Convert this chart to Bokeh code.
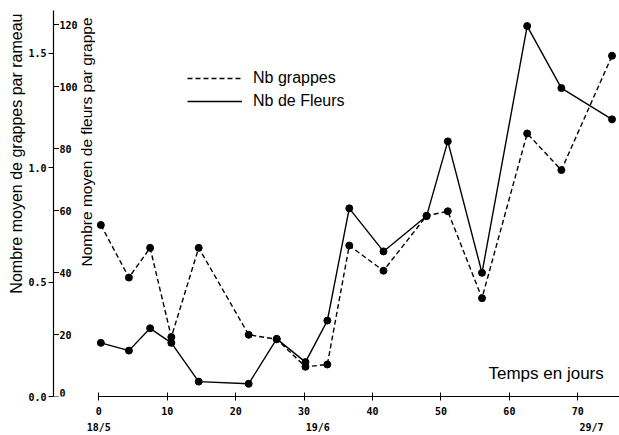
import math
from bokeh.plotting import figure
from bokeh.models import (Range1d, LinearAxis, FixedTicker, Label, LabelSet, Legend,
                          LegendItem, ColumnDataSource, PrintfTickFormatter, Title)
from bokeh.core.properties import value
from bokeh.embed import file_html
from bokeh.resources import INLINE

# ---- data ----
days = [0.3, 4.4, 7.5, 10.6, 14.6, 21.9, 26.0, 30.2, 33.4, 36.6, 41.6, 47.9, 51.0, 56.0, 62.6, 67.6, 75.0]
nb_fleurs = [17.3, 14.8, 22.0, 17.3, 4.8, 4.1, 18.6, 11.1, 24.5, 60.7, 46.8, 58.2, 82.3, 39.9, 119.5, 99.5, 89.4]
nb_grappes = [0.75, 0.52, 0.65, 0.26, 0.65, 0.27, 0.25, 0.13, 0.14, 0.66, 0.55, 0.79, 0.81, 0.43, 1.15, 0.99, 1.49]

grappe_ticks = [0.0, 0.5, 1.0, 1.5]
fleur_ticks = [0, 20, 40, 60, 80, 100, 120]
fleur_tick_labels = ["0", "20", "40", "60", "80", "100", "120"]
day_ticks = [0, 10, 20, 30, 40, 50, 60, 70]
date_ticks = [0, 32, 72]
date_labels = ["18/5", "19/6", "29/7"]

series_labels = ["Nb grappes", "Nb de Fleurs"]
title_grappes = "Nombre moyen de grappes par rameau"
title_fleurs = "Nombre moyen de fleurs par grappe"
title_temps = "Temps en jours"

# ---- layout ----
PX_DAY = 6.843          # pixels per day
PX_FLEUR = 3.1          # pixels per flower unit
PX_GRAPPE = 228.7       # pixels per grappe unit
FRAME_W, FRAME_H = 566, 386

X0 = -45.3 / PX_DAY
X1 = X0 + FRAME_W / PX_DAY
Y1 = FRAME_H / PX_FLEUR
G1 = FRAME_H / PX_GRAPPE

TICK_FONT = "DejaVu Sans Mono"
TEXT_FONT = "Liberation Sans"
INK = "#000000"

p = figure(width=619, height=435, x_range=Range1d(X0, X1), y_range=Range1d(0, Y1),
           output_backend="svg", toolbar_location=None,
           x_axis_location=None, y_axis_location=None,
           min_border_left=53, min_border_right=0, min_border_top=10, min_border_bottom=39)
p.extra_y_ranges = {"grappes": Range1d(0, G1)}
p.grid.visible = False
p.outline_line_color = None
p.background_fill_color = "white"
p.border_fill_color = "white"

tick_label_style = dict(major_label_text_font=TICK_FONT, major_label_text_font_size="10px",
                        major_label_text_font_style="bold", major_label_text_color=INK)

# left axis (grappes scale, labels on the left)
ax_g = LinearAxis(y_range_name="grappes", ticker=FixedTicker(ticks=grappe_ticks),
                  formatter=PrintfTickFormatter(format="%.1f"),
                  major_tick_in=0, major_tick_out=5, major_label_standoff=2,
                  minor_tick_line_color=None, axis_line_color=INK, major_tick_line_color=INK,
                  axis_line_width=1.2, **tick_label_style)
p.add_layout(ax_g, "left")
p.add_layout(Title(text=title_grappes, align="right", offset=3, vertical_align="middle",
                   standoff=0, text_font=TEXT_FONT, text_font_size="16px",
                   text_font_style="normal", text_color=INK), "left")

# bottom axis (days)
ax_x = LinearAxis(ticker=FixedTicker(ticks=day_ticks), bounds=(0, X1),
                  major_tick_in=4, major_tick_out=4, major_label_standoff=6,
                  minor_tick_line_color=None, axis_line_color=INK, major_tick_line_color=INK,
                  axis_line_width=1.2, **tick_label_style)
p.add_layout(ax_x, "below")

# date labels row
ax_d = LinearAxis(ticker=FixedTicker(ticks=date_ticks),
                  major_label_overrides={t: l for t, l in zip(date_ticks, date_labels)},
                  axis_line_color=None, major_tick_line_color=None, minor_tick_line_color=None,
                  major_tick_in=0, major_tick_out=0, major_label_standoff=4,
                  **tick_label_style)
p.add_layout(ax_d, "below")

# flowers scale ticks, on the right side of the left axis line
n = len(fleur_ticks)
p.segment(x0=[X0] * n, y0=fleur_ticks, x1=[X0 + 0.8] * n, y1=fleur_ticks,
          line_color=INK, line_width=1)
label_lift = [4 if t == 0 else 0 for t in fleur_ticks]   # keep the zero label inside the frame
fsrc = ColumnDataSource(dict(x=[X0] * n, y=fleur_ticks, t=fleur_tick_labels, dy=label_lift))
p.add_layout(LabelSet(x="x", y="y", text="t", source=fsrc, x_offset=6, y_offset="dy",
                      text_align="left", text_baseline="middle",
                      text_font=value(TICK_FONT), text_font_size="10px",
                      text_font_style="bold", text_color=INK))

# data
r_g = p.line(days, nb_grappes, y_range_name="grappes", line_color=INK,
             line_width=1.4, line_dash="5 3")
p.scatter(days, nb_grappes, y_range_name="grappes", size=7, color=INK)
r_f = p.line(days, nb_fleurs, line_color=INK, line_width=1.4)
p.scatter(days, nb_fleurs, size=7, color=INK)

legend = Legend(items=[LegendItem(label=series_labels[0], renderers=[r_g]),
                       LegendItem(label=series_labels[1], renderers=[r_f])],
                location=(134, 285), padding=0, margin=0, spacing=3,
                glyph_width=55, glyph_height=20, label_height=20, label_standoff=11,
                border_line_color=None, background_fill_alpha=0,
                label_text_font=TEXT_FONT, label_text_font_size="16px",
                label_text_color=INK)
p.add_layout(legend)

p.add_layout(Label(x=-1.80, y=82.1, text=title_fleurs, angle=math.pi / 2,
                   text_align="center", text_baseline="middle",
                   text_font=TEXT_FONT, text_font_size="15.5px", text_color=INK))
p.add_layout(Label(x=56.95, y=7.4, text=title_temps,
                   text_align="left", text_baseline="middle",
                   text_font=TEXT_FONT, text_font_size="17px", text_color=INK))

open("out.html", "w").write(file_html(p, INLINE))
